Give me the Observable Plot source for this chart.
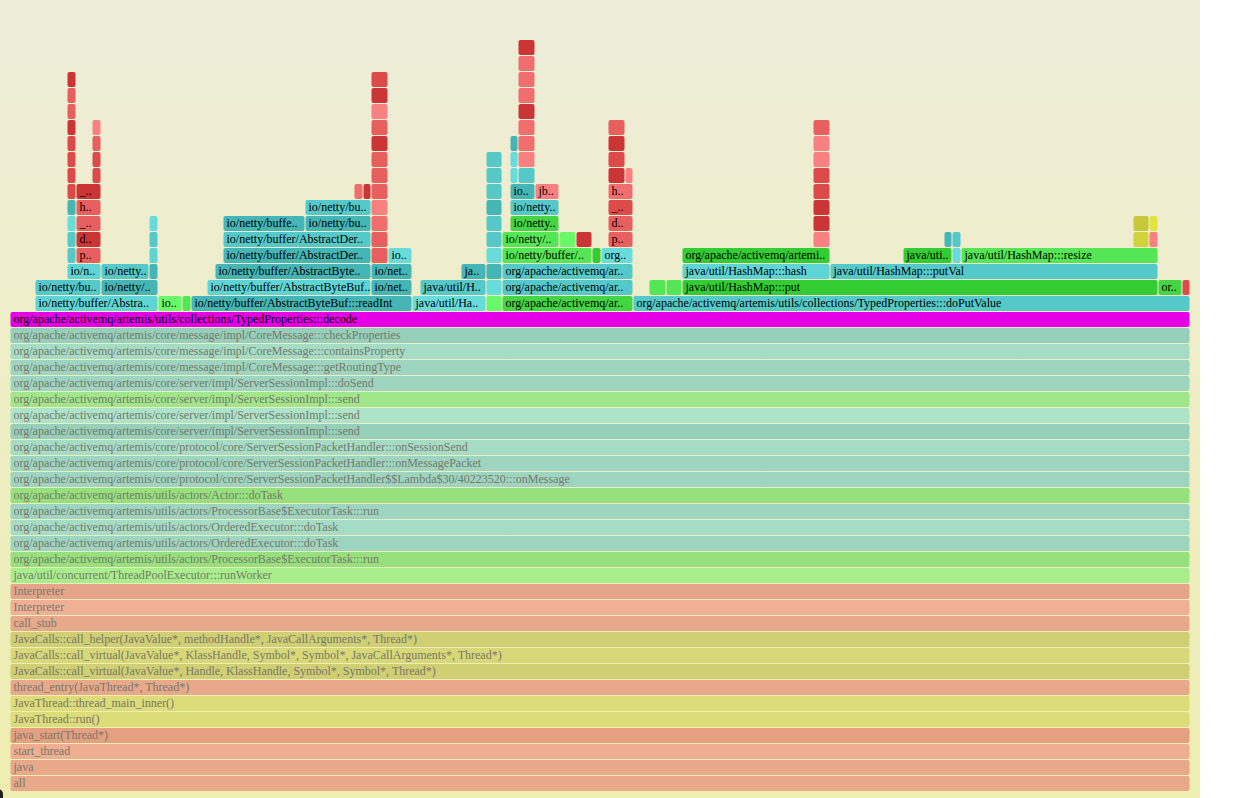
<!DOCTYPE html>
<html><head><meta charset="utf-8">
<script src="https://cdn.jsdelivr.net/npm/d3@7"></script>
<script src="https://cdn.jsdelivr.net/npm/@observablehq/plot@0.6"></script>
<style>
html,body{margin:0;padding:0;background:#fff;overflow:hidden}
#chart svg{display:block}
#dot{position:fixed;left:-7px;top:789px;width:10px;height:18px;border-radius:5px;background:#1e1e1e}
</style></head><body><div id="chart"></div><div id="dot"></div>
<script>
// total samples across the root frame
const totalSamples = 1180;

// bottom (parent) stack, depth 0 upward — all frames span the full width
const stackLabels = [
  "all",
  "java",
  "start_thread",
  "java_start(Thread*)",
  "JavaThread::run()",
  "JavaThread::thread_main_inner()",
  "thread_entry(JavaThread*, Thread*)",
  "JavaCalls::call_virtual(JavaValue*, Handle, KlassHandle, Symbol*, Symbol*, Thread*)",
  "JavaCalls::call_virtual(JavaValue*, KlassHandle, Symbol*, Symbol*, JavaCallArguments*, Thread*)",
  "JavaCalls::call_helper(JavaValue*, methodHandle*, JavaCallArguments*, Thread*)",
  "call_stub",
  "Interpreter",
  "Interpreter",
  "java/util/concurrent/ThreadPoolExecutor:::runWorker",
  "org/apache/activemq/artemis/utils/actors/ProcessorBase$ExecutorTask:::run",
  "org/apache/activemq/artemis/utils/actors/OrderedExecutor:::doTask",
  "org/apache/activemq/artemis/utils/actors/OrderedExecutor:::doTask",
  "org/apache/activemq/artemis/utils/actors/ProcessorBase$ExecutorTask:::run",
  "org/apache/activemq/artemis/utils/actors/Actor:::doTask",
  "org/apache/activemq/artemis/core/protocol/core/ServerSessionPacketHandler$$Lambda$30/40223520:::onMessage",
  "org/apache/activemq/artemis/core/protocol/core/ServerSessionPacketHandler:::onMessagePacket",
  "org/apache/activemq/artemis/core/protocol/core/ServerSessionPacketHandler:::onSessionSend",
  "org/apache/activemq/artemis/core/server/impl/ServerSessionImpl:::send",
  "org/apache/activemq/artemis/core/server/impl/ServerSessionImpl:::send",
  "org/apache/activemq/artemis/core/server/impl/ServerSessionImpl:::send",
  "org/apache/activemq/artemis/core/server/impl/ServerSessionImpl:::doSend",
  "org/apache/activemq/artemis/core/message/impl/CoreMessage:::getRoutingType",
  "org/apache/activemq/artemis/core/message/impl/CoreMessage:::containsProperty",
  "org/apache/activemq/artemis/core/message/impl/CoreMessage:::checkProperties",
  "org/apache/activemq/artemis/utils/collections/TypedProperties:::decode"
];
const stackKinds = ["po1","po1","po2","po3","py1","py1","po1","py2","py3","py2",
  "po1","po4","po5","pg3","pg1","pa2","pa3","pa2","pg1","pa2",
  "pa2","pa3","pa1","pa4","pg2","pa2","pa2","pa3","pa1","match"];

// frames above the decode frame: [start sample, width, label, kind]
const level30 = [[25,123,"io/netty/buffer/Abstra..","c1"],[148,24,"io..","g4"],[172,9,"","g3"],
  [181,221,"io/netty/buffer/AbstractByteBuf:::readInt","c2"],[402,74,"java/util/Ha..","c4"],[476,16,"","g4"],
  [492,131,"org/apache/activemq/ar..","g2"],[623,557,"org/apache/activemq/artemis/utils/collections/TypedProperties:::doPutValue","c3"]];
const level31 = [[25,66,"io/netty/bu..","c3"],[91,57,"io/netty/..","c2"],[197,164,"io/netty/buffer/AbstractByteBuf..","c1"],
  [361,41,"io/net..","c2"],[410,66,"java/util/H..","c3"],[476,16,"","c4"],[492,131,"org/apache/activemq/ar..","c3"],
  [639,17,"","g3"],[656,16,"","g3"],[672,476,"java/util/HashMap:::put","g1"],[1148,24,"or..","g2"],[1172,8,"","r2"]];
const level32 = [[57,34,"io/n..","c1"],[91,48,"io/netty..","c3"],[139,9,"","c2"],[205,156,"io/netty/buffer/AbstractByte..","c2"],
  [361,41,"io/net..","c2"],[451,25,"ja..","c2"],[476,16,"","c2"],[492,131,"org/apache/activemq/ar..","c3"],
  [672,148,"java/util/HashMap:::hash","c1"],[820,328,"java/util/HashMap:::putVal","c3"]];
const level33 = [[57,9,"","c3"],[66,25,"p..","r3"],[139,9,"","c1"],[213,148,"io/netty/buffer/AbstractDer..","c2"],
  [361,17,"","r3"],[378,24,"io..","c4"],[476,16,"","c4"],[492,90,"io/netty/buffer/..","g3"],[582,9,"","g1"],
  [591,32,"org..","c4"],[672,148,"org/apache/activemq/artemi..","g1"],[893,49,"java/uti..","g1"],[942,9,"","c4"],
  [951,197,"java/util/HashMap:::resize","g3"]];
const level34 = [[57,9,"","c3"],[66,25,"d..","r1"],[139,9,"","c3"],[213,148,"io/netty/buffer/AbstractDer..","c3"],
  [361,17,"","r3"],[476,16,"","c3"],[492,57,"io/netty/..","g3"],[549,17,"","g4"],[566,16,"","r1"],[598,25,"p..","r3"],
  [803,17,"","r5"],[934,8,"","c2"],[942,9,"","c3"],[1123,16,"","y3"],[1139,9,"","r5"]];
const level35 = [[57,9,"","c4"],[66,25,"_..","r3"],[139,9,"","c4"],[213,82,"io/netty/buffe..","c2"],[295,66,"io/netty/bu..","c2"],
  [361,17,"","r4"],[476,16,"","c3"],[500,49,"io/netty..","g2"],[598,25,"d..","r3"],[803,17,"","r1"],
  [1123,16,"","y1"],[1139,9,"","y2"]];
const level36 = [[57,9,"","c2"],[66,25,"h..","r3"],[295,66,"io/netty/bu..","c3"],[361,17,"","r5"],[476,16,"","c2"],
  [500,49,"io/netty..","c3"],[598,25,"_..","r2"],[803,17,"","r1"]];
const level37 = [[57,9,"","r2"],[66,25,"_..","r1"],[344,9,"","r4"],[353,8,"","r1"],[361,17,"","r3"],[476,16,"","c3"],
  [500,25,"io..","c2"],[525,24,"jb..","r5"],[598,25,"h..","r4"],[803,17,"","r2"]];
const level38 = [[57,9,"","r2"],[82,9,"","r2"],[361,17,"","r3"],[476,16,"","c3"],[500,8,"","c4"],[508,17,"","c3"],
  [598,17,"","r1"],[615,8,"","r5"],[803,17,"","r2"]];
const level39 = [[57,9,"","r2"],[82,9,"","r2"],[361,17,"","r3"],[476,16,"","c3"],[500,8,"","c4"],[508,17,"","r5"],
  [598,17,"","r2"],[803,17,"","r5"]];
const level40 = [[57,9,"","r2"],[82,9,"","r3"],[361,17,"","r1"],[500,8,"","c2"],[508,17,"","r4"],[598,17,"","r1"],[803,17,"","r5"]];
const level41 = [[57,9,"","r1"],[82,9,"","r5"],[361,17,"","r3"],[508,17,"","r4"],[598,17,"","r3"],[803,17,"","r3"]];
const level42 = [[57,9,"","r3"],[361,17,"","r5"],[508,17,"","r1"]];
const level43 = [[57,9,"","r3"],[361,17,"","r1"],[508,17,"","r4"]];
const level44 = [[57,9,"","r1"],[361,17,"","r2"],[508,17,"","r4"]];
const level45 = [[508,17,"","r4"]];
const level46 = [[508,17,"","r1"]];

// colour for each frame kind
const palette = {
  g1:"#33cc33", g2:"#44d444", g3:"#55e655", g4:"#6af76a",
  c1:"#5fd4d4", c2:"#45b5b5", c3:"#55c9c9", c4:"#68dbdb",
  r1:"#cc3535", r2:"#dc4a4a", r3:"#e85f5f", r4:"#f06e6e", r5:"#f88080",
  y1:"#c8c83c", y2:"#e4e440", y3:"#d2d23c",
  po1:"#e8a88a", po2:"#eeae92", po3:"#e4a080", po4:"#f0b096", po5:"#e6a58a",
  py1:"#dcdc78", py2:"#d0cf74", py3:"#d8d878",
  pg1:"#96e07e", pg2:"#a0e68a", pg3:"#a8ee8c",
  pa1:"#96cfba", pa2:"#9dd5c0", pa3:"#a5dcc6", pa4:"#ace3c9",
  match:"#e600e6"
};

const frames = [];
stackLabels.forEach((label, d) => frames.push({depth: d, start: 0, width: totalSamples, label, kind: stackKinds[d], parent: d < 29}));
const levels = [level30, level31, level32, level33, level34, level35, level36, level37, level38,
  level39, level40, level41, level42, level43, level44, level45, level46];
levels.forEach((arr, i) => {
  for (const [start, width, label, kind] of arr) frames.push({depth: 30 + i, start, width, label, kind, parent: false});
});

const chart = Plot.plot({
  width: 1200,
  height: 798,
  margin: 0,
  x: {domain: [0, totalSamples], range: [10, 1190], axis: null},
  y: {domain: [0, 49.5], range: [792, 0], axis: null},
  color: {type: "identity"},
  style: {background: "linear-gradient(#eeedda, #eeeeb0)", fontFamily: "'Liberation Serif', serif", overflow: "hidden"},
  marks: [
    Plot.rect(frames, {
      x1: "start", x2: d => d.start + d.width,
      y1: "depth", y2: d => d.depth + 1,
      insetBottom: 1, insetLeft: 0.5, insetRight: 0.5,
      rx: 2,
      fill: d => palette[d.kind]
    }),
    Plot.text(frames.filter(d => d.label), {
      x: "start", y: "depth", text: "label",
      dx: 3, dy: -5.5,
      textAnchor: "start", lineAnchor: "bottom",
      fontSize: 12,
      fill: d => d.parent ? "#78786a" : "#000000"
    })
  ]
});
document.getElementById("chart").appendChild(chart);
</script>
</body></html>
